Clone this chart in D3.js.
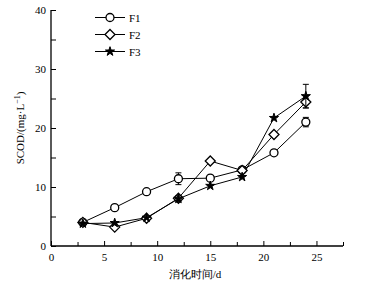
<!DOCTYPE html>
<html><head><meta charset="utf-8">
<script src="https://cdn.jsdelivr.net/npm/d3@7"></script>
<style>body{margin:0;background:#fff}svg{display:block}text{font-family:"Liberation Serif","Times New Roman",serif;fill:#000}</style>
</head><body><svg id="c" width="365" height="286"></svg>
<script>
const days = [3, 6, 9, 12, 15, 18, 21, 24];
const F1 = [4.0, 6.5, 9.2, 11.4, 11.5, 12.9, 15.8, 21.0];
const F1err = [0, 0, 0, 1.0, 0, 0, 0, 0.8];
const F2 = [4.0, 3.2, 4.7, 8.1, 14.4, 12.8, 18.9, 24.4];
const F2err = [0, 0, 0, 0, 0, 0, 0, 1.0];
const F3 = [3.8, 3.9, 4.8, 8.0, 10.2, 11.7, 21.7, 25.4];
const F3err = [0, 0, 0, 0.5, 0, 0, 0, 2.0];
const seriesNames = ["F1", "F2", "F3"];
const xTicks = [0, 5, 10, 15, 20, 25];
const yTicks = [0, 10, 20, 30, 40];

const svg = d3.select("#c");
const x = d3.scaleLinear().domain([0, 27.5]).range([51, 343]);
const y = d3.scaleLinear().domain([0, 40]).range([246, 10]);

const series = [
  {name: "F1", vals: F1, err: F1err, sym: "circle"},
  {name: "F2", vals: F2, err: F2err, sym: "diamond"},
  {name: "F3", vals: F3, err: F3err, sym: "star"}
];

function drawMarker(g, sym, cx, cy) {
  if (sym === "circle") {
    g.append("circle").attr("cx", cx).attr("cy", cy).attr("r", 4)
      .attr("fill", "#fff").attr("stroke", "#000").attr("stroke-width", 1.3);
  } else if (sym === "diamond") {
    const s = 5;
    g.append("path").attr("d", `M${cx},${cy-s}L${cx+s},${cy}L${cx},${cy+s}L${cx-s},${cy}Z`)
      .attr("fill", "#fff").attr("stroke", "#000").attr("stroke-width", 1.3);
  } else {
    g.append("path").attr("d", d3.symbol().type(d3.symbolStar).size(26)())
      .attr("transform", `translate(${cx},${cy})`)
      .attr("fill", "#000").attr("stroke", "#000").attr("stroke-width", 1);
  }
}

// axes
const xAxis = d3.axisBottom(x).tickValues(d3.range(0, 27.6, 2.5)).tickSize(-5)
  .tickFormat(d => xTicks.includes(d) ? d : "");
const gx = svg.append("g").attr("transform", "translate(0,246)").call(xAxis);
gx.selectAll(".tick text").attr("dy", "1em").attr("y", 4).style("font-size", "11px");
gx.selectAll(".tick line").attr("y2", d => xTicks.includes(d) ? -5 : -4);
gx.select(".domain").attr("d", `M${x(0)},0H${x(27.5)}`).attr("stroke-width", 1.3);

const yAxis = d3.axisLeft(y).tickValues(d3.range(0, 40.1, 5)).tickSize(-5)
  .tickFormat(d => yTicks.includes(d) ? d : "");
const gy = svg.append("g").attr("transform", "translate(51,0)").call(yAxis);
gy.selectAll(".tick text").attr("x", -5).style("font-size", "11px");
gy.select(".domain").attr("d", `M0,${y(0)}V${y(40)}`).attr("stroke-width", 1.3);
svg.selectAll(".domain").attr("stroke", "#000");

// labels
svg.append("text").attr("x", 195).attr("y", 278).attr("text-anchor", "middle")
  .style("font-size", "11px").text("消化时间/d");
const yl = svg.append("text").attr("transform", "translate(24,128) rotate(-90)")
  .attr("text-anchor", "middle").style("font-size", "11px");
yl.append("tspan").text("SCOD/(mg·L");
yl.append("tspan").attr("dy", -4).style("font-size", "8px").text("−1");
yl.append("tspan").attr("dy", 4).text(")");

// lines, error bars, markers
const line = d3.line().x(d => x(d[0])).y(d => y(d[1]));
series.forEach(s => {
  const pts = days.map((d, i) => [d, s.vals[i]]);
  svg.append("path").attr("d", line(pts)).attr("fill", "none")
    .attr("stroke", "#000").attr("stroke-width", 1);
});
series.forEach(s => {
  const g = svg.append("g");
  days.forEach((d, i) => {
    const e = s.err[i];
    if (e > 0) {
      const cx = x(d);
      g.append("path").attr("d",
        `M${cx},${y(s.vals[i]-e)}V${y(s.vals[i]+e)}M${cx-3},${y(s.vals[i]+e)}h6M${cx-3},${y(s.vals[i]-e)}h6`)
        .attr("stroke", "#000").attr("stroke-width", 1).attr("fill", "none");
    }
  });
  days.forEach((d, i) => drawMarker(g, s.sym, x(d), y(s.vals[i])));
});

// legend
series.forEach((s, i) => {
  const ly = 17.5 + i * 17;
  const g = svg.append("g");
  g.append("line").attr("x1", 95).attr("x2", 125).attr("y1", ly).attr("y2", ly)
    .attr("stroke", "#000").attr("stroke-width", 1);
  drawMarker(g, s.sym, 110, ly);
  g.append("text").attr("x", 129).attr("y", ly + 4).style("font-size", "11px").text(seriesNames[i]);
});
</script></body></html>
